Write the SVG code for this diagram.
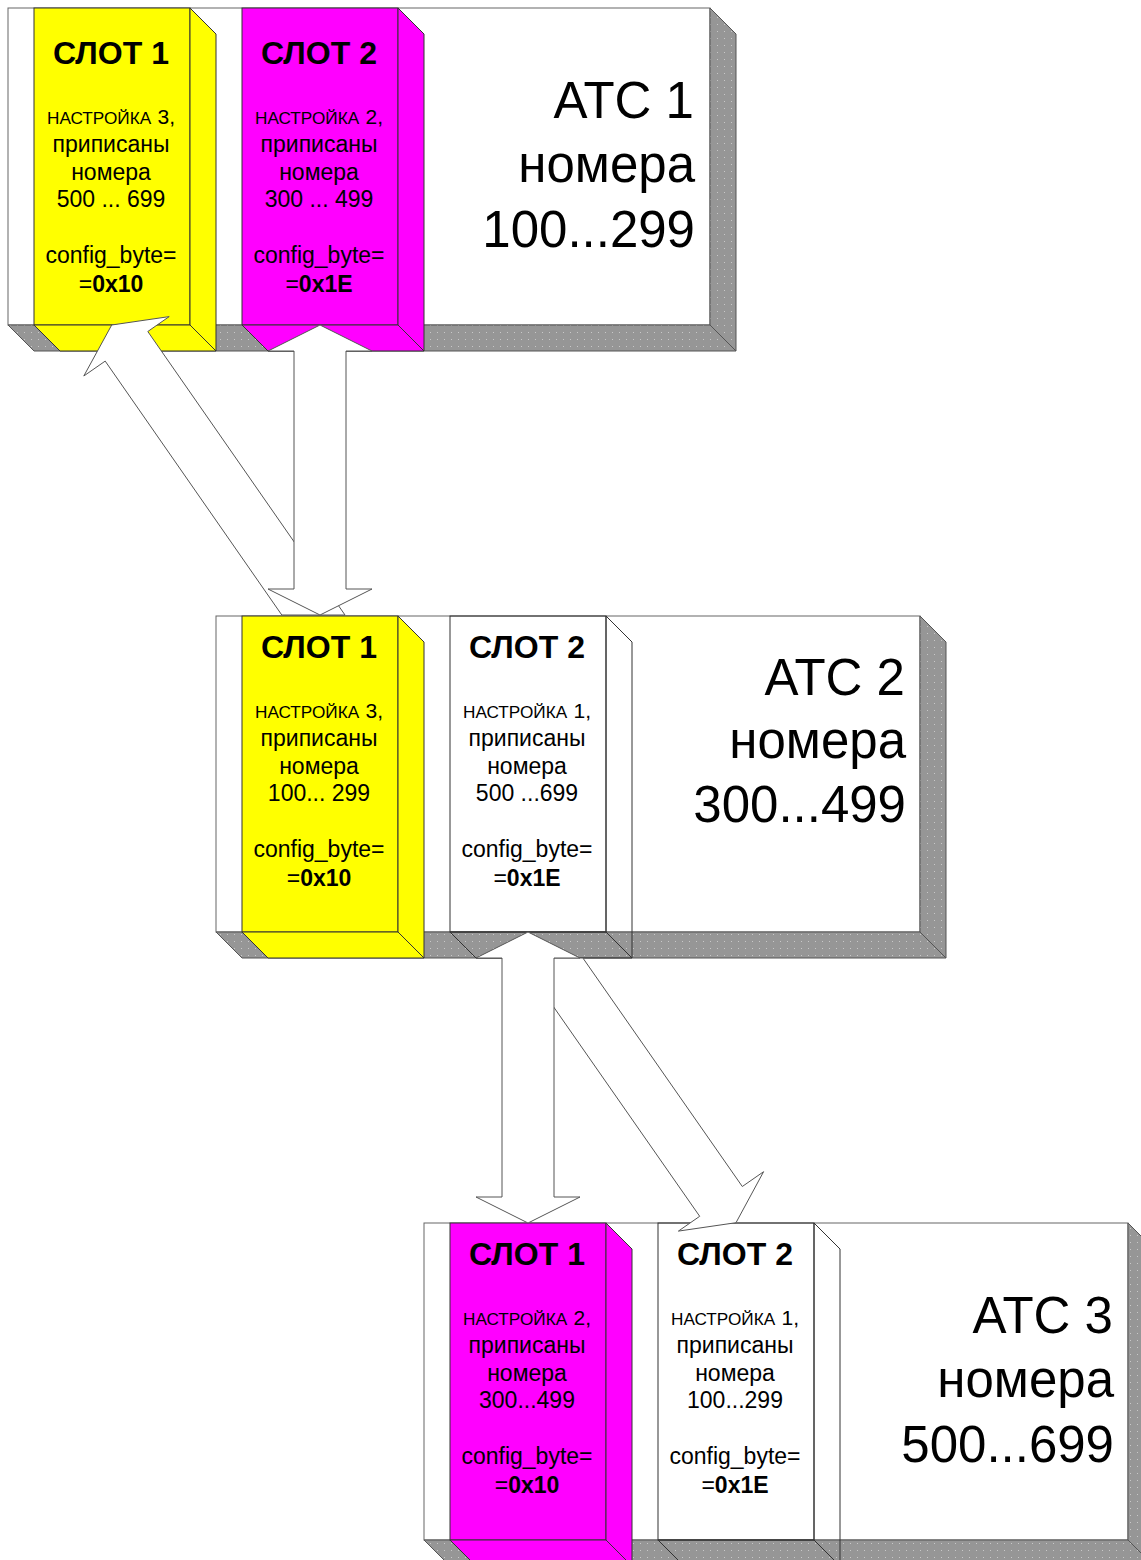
<svg xmlns="http://www.w3.org/2000/svg" width="1141" height="1560" viewBox="0 0 1141 1560">
<defs>
<pattern id="dots" width="7" height="7" patternUnits="userSpaceOnUse">
<rect width="7" height="7" fill="#969696"/>
<rect x="3" y="3" width="1" height="1" fill="#c8c8c8"/>
</pattern>
</defs>
<style>
.face{fill:#ffffff;stroke:#666666;stroke-width:1}
.bevel{fill:url(#dots);stroke:#555555;stroke-width:1}
.yel{fill:#ffff00;stroke:#333333;stroke-width:1}
.mag{fill:#ff00ff;stroke:#333333;stroke-width:1}
.wht{fill:none;stroke:#333333;stroke-width:1}
.arrow{fill:#ffffff;stroke:#555555;stroke-width:1;stroke-linejoin:miter}
text{font-family:"Liberation Sans",Arial,sans-serif;fill:#000000}
.h{font-size:32px;font-weight:bold;text-anchor:middle}
.t{font-size:23px;text-anchor:middle}
.sc{font-size:17.2px}
.n{font-size:21px}
.b{font-weight:bold}
.big{font-size:51px;text-anchor:end}
</style>

<!-- ATC 1 -->
<g id="atc1">
<rect class="face" x="8" y="8" width="702" height="317"/>
<polygon class="bevel" points="710,8 736,34 736,351 710,325"/>
<polygon class="bevel" points="8,325 710,325 736,351 34,351"/>
<text class="big" x="694" y="118.3">АТС 1</text>
<text class="big" x="695" y="181.7">номера</text>
<text class="big" x="695" y="246.7">100...299</text>
</g>
<g id="atc1-slot1">
<rect class="yel" x="34" y="8" width="156" height="317"/>
<polygon class="yel" points="190,8 216,34 216,351 190,325"/>
<polygon class="yel" points="34,325 190,325 216,351 60,351"/>
<text class="h" x="111" y="63.5">СЛОТ 1</text>
<text class="t" x="111" y="123.5"><tspan class="sc">НАСТРОЙКА</tspan> <tspan class="n">3,</tspan></text>
<text class="t" x="111" y="151.7">приписаны</text>
<text class="t" x="111" y="180">номера</text>
<text class="t" x="111" y="207.3">500 ... 699</text>
<text class="t" x="111" y="263.3">config_byte=</text>
<text class="t" x="111" y="291.7">=<tspan class="b">0x10</tspan></text>
</g>
<g id="atc1-slot2">
<rect class="mag" x="242" y="8" width="156" height="317"/>
<polygon class="mag" points="398,8 424,34 424,351 398,325"/>
<polygon class="mag" points="242,325 398,325 424,351 268,351"/>
<text class="h" x="319" y="63.5">СЛОТ 2</text>
<text class="t" x="319" y="123.5"><tspan class="sc">НАСТРОЙКА</tspan> <tspan class="n">2,</tspan></text>
<text class="t" x="319" y="151.7">приписаны</text>
<text class="t" x="319" y="180">номера</text>
<text class="t" x="319" y="207.3">300 ... 499</text>
<text class="t" x="319" y="263.3">config_byte=</text>
<text class="t" x="319" y="291.7">=<tspan class="b">0x1E</tspan></text>
</g>

<!-- ATC 2 -->
<g id="atc2">
<rect class="face" x="216" y="616" width="704" height="316"/>
<polygon class="bevel" points="920,616 946,642 946,958 920,932"/>
<polygon class="bevel" points="216,932 920,932 946,958 242,958"/>
<text class="big" x="905" y="695">АТС 2</text>
<text class="big" x="906" y="758">номера</text>
<text class="big" x="906" y="821.7">300...499</text>
</g>
<g id="atc2-slot1">
<rect class="yel" x="242" y="616" width="156" height="316"/>
<polygon class="yel" points="398,616 424,642 424,958 398,932"/>
<polygon class="yel" points="242,932 398,932 424,958 268,958"/>
<text class="h" x="319" y="657.5">СЛОТ 1</text>
<text class="t" x="319" y="717.5"><tspan class="sc">НАСТРОЙКА</tspan> <tspan class="n">3,</tspan></text>
<text class="t" x="319" y="745.7">приписаны</text>
<text class="t" x="319" y="774">номера</text>
<text class="t" x="319" y="801.3">100... 299</text>
<text class="t" x="319" y="857.3">config_byte=</text>
<text class="t" x="319" y="885.7">=<tspan class="b">0x10</tspan></text>
</g>
<g id="atc2-slot2">
<rect class="wht" x="450" y="616" width="156" height="316"/>
<polygon class="wht" points="606,616 632,642 632,958 606,932"/>
<polygon class="wht" points="450,932 606,932 632,958 476,958"/>
<text class="h" x="527" y="657.5">СЛОТ 2</text>
<text class="t" x="527" y="717.5"><tspan class="sc">НАСТРОЙКА</tspan> <tspan class="n">1,</tspan></text>
<text class="t" x="527" y="745.7">приписаны</text>
<text class="t" x="527" y="774">номера</text>
<text class="t" x="527" y="801.3">500 ...699</text>
<text class="t" x="527" y="857.3">config_byte=</text>
<text class="t" x="527" y="885.7">=<tspan class="b">0x1E</tspan></text>
</g>

<!-- ATC 3 -->
<g id="atc3">
<rect class="face" x="424" y="1223" width="704" height="317"/>
<polygon class="bevel" points="1128,1223 1154,1249 1154,1566 1128,1540"/>
<polygon class="bevel" points="424,1540 1128,1540 1154,1566 450,1566"/>
<text class="big" x="1113" y="1333.3">АТС 3</text>
<text class="big" x="1114" y="1397">номера</text>
<text class="big" x="1114" y="1461.7">500...699</text>
</g>
<g id="atc3-slot1">
<rect class="mag" x="450" y="1223" width="156" height="317"/>
<polygon class="mag" points="606,1223 632,1249 632,1566 606,1540"/>
<polygon class="mag" points="450,1540 606,1540 632,1566 476,1566"/>
<text class="h" x="527" y="1264.5">СЛОТ 1</text>
<text class="t" x="527" y="1324.5"><tspan class="sc">НАСТРОЙКА</tspan> <tspan class="n">2,</tspan></text>
<text class="t" x="527" y="1352.7">приписаны</text>
<text class="t" x="527" y="1381">номера</text>
<text class="t" x="527" y="1408.3">300...499</text>
<text class="t" x="527" y="1464.3">config_byte=</text>
<text class="t" x="527" y="1492.7">=<tspan class="b">0x10</tspan></text>
</g>
<g id="atc3-slot2">
<rect class="wht" x="658" y="1223" width="156" height="317"/>
<polygon class="wht" points="814,1223 840,1249 840,1566 814,1540"/>
<polygon class="wht" points="658,1540 814,1540 840,1566 684,1566"/>
<text class="h" x="735" y="1264.5">СЛОТ 2</text>
<text class="t" x="735" y="1324.5"><tspan class="sc">НАСТРОЙКА</tspan> <tspan class="n">1,</tspan></text>
<text class="t" x="735" y="1352.7">приписаны</text>
<text class="t" x="735" y="1381">номера</text>
<text class="t" x="735" y="1408.3">100...299</text>
<text class="t" x="735" y="1464.3">config_byte=</text>
<text class="t" x="735" y="1492.7">=<tspan class="b">0x1E</tspan></text>
</g>

<!-- connectors -->
<g id="connectors">
<polygon class="arrow" points="111.7,325 169.2,316.6 147.8,331.5 345,615 281.8,615 105.2,361.1 83.8,376"/>
<polygon class="arrow" points="320,325 372,351 346,351 346,589 372,589 320,615 268,589 294,589 294,351 268,351"/>
<polygon class="arrow" points="736,1222.7 763.6,1171.7 742.3,1186.5 582.9,958 519.5,958 699.7,1216.3 678.4,1231.1"/>
<polygon class="arrow" points="528,932 580,958 554,958 554,1197 580,1197 528,1223 476,1197 502,1197 502,958 476,958"/>
</g>
</svg>
